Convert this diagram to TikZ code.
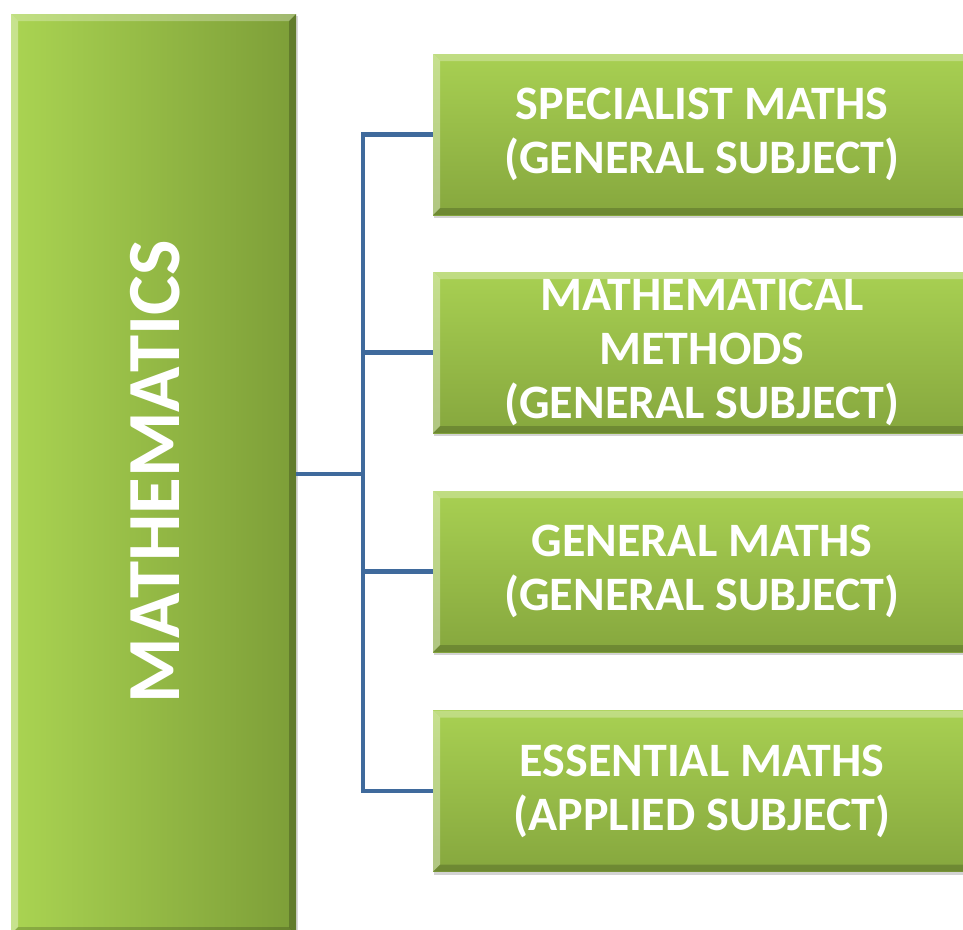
\documentclass[tikz,border=0pt]{standalone}
\usepackage{fontspec}
\setmainfont{Carlito}
\usetikzlibrary{calc,shadows}
\definecolor{linkblue}{HTML}{3F6A9C}
\definecolor{gtop}{HTML}{A8D052}
\definecolor{gbot}{HTML}{86A73E}
\definecolor{gleft}{HTML}{AAD452}
\definecolor{gright}{HTML}{7D9E38}
\tikzset{
  bevel/.style={path picture={
    \fill[white,opacity=0.28] (path picture bounding box.north west) -- (path picture bounding box.north east)
      -- ($(path picture bounding box.north east)+(-7pt,-7pt)$) -- ($(path picture bounding box.north west)+(7pt,-7pt)$) -- cycle;
    \fill[white,opacity=0.35] (path picture bounding box.north west) -- ($(path picture bounding box.north west)+(7pt,-7pt)$)
      -- ($(path picture bounding box.south west)+(7pt,7pt)$) -- (path picture bounding box.south west) -- cycle;
    \fill[black,opacity=0.18] (path picture bounding box.south west) -- ($(path picture bounding box.south west)+(7pt,7pt)$)
      -- ($(path picture bounding box.south east)+(-7pt,7pt)$) -- (path picture bounding box.south east) -- cycle;
    \fill[black,opacity=0.22] (path picture bounding box.north east) -- ($(path picture bounding box.north east)+(-7pt,-7pt)$)
      -- ($(path picture bounding box.south east)+(-7pt,7pt)$) -- (path picture bounding box.south east) -- cycle;
  }},
  subjbox/.style={rectangle, inner sep=0pt, minimum width=538pt, minimum height=161pt,
    top color=gtop, bottom color=gbot, bevel,
    drop shadow={opacity=0.35, shadow xshift=1pt, shadow yshift=-3pt},
    text=white, align=center, font=\bfseries\fontsize{48}{54}\selectfont},
  mainbox/.style={rectangle, inner sep=0pt, minimum width=285pt, minimum height=920pt,
    left color=gleft, right color=gright, bevel,
    drop shadow={opacity=0.3, shadow xshift=2pt, shadow yshift=-2pt}},
  maintext/.style={rotate=90, text=white, font=\bfseries\fontsize{75}{80}\selectfont},
  link/.style={draw=linkblue, line width=4.5pt}
}
\begin{document}
\begin{tikzpicture}[x=1pt,y=-1pt]
\useasboundingbox (0,0) rectangle (963,929);
\node[mainbox] (math) at (153.5,474) {};
\node[maintext] (mtext) at (155,472) {MATHEMATICS};
\node[subjbox] (s1) at (702,134.5) {SPECIALIST MATHS\\(GENERAL SUBJECT)};
\node[subjbox] (s2) at (702,352.5) {MATHEMATICAL\\METHODS\\(GENERAL SUBJECT)};
\node[subjbox] (s3) at (702,571.5) {GENERAL MATHS\\(GENERAL SUBJECT)};
\node[subjbox] (s4) at (702,791) {ESSENTIAL MATHS\\(APPLIED SUBJECT)};
\coordinate (hub) at (363,474);
\draw[link] (math.east) -- (hub);
\draw[link] (s1.west) -| (hub);
\draw[link] (s2.west) -| (hub);
\draw[link] (s3.west) -| (hub);
\draw[link] (s4.west) -| (hub);
\end{tikzpicture}
\end{document}
